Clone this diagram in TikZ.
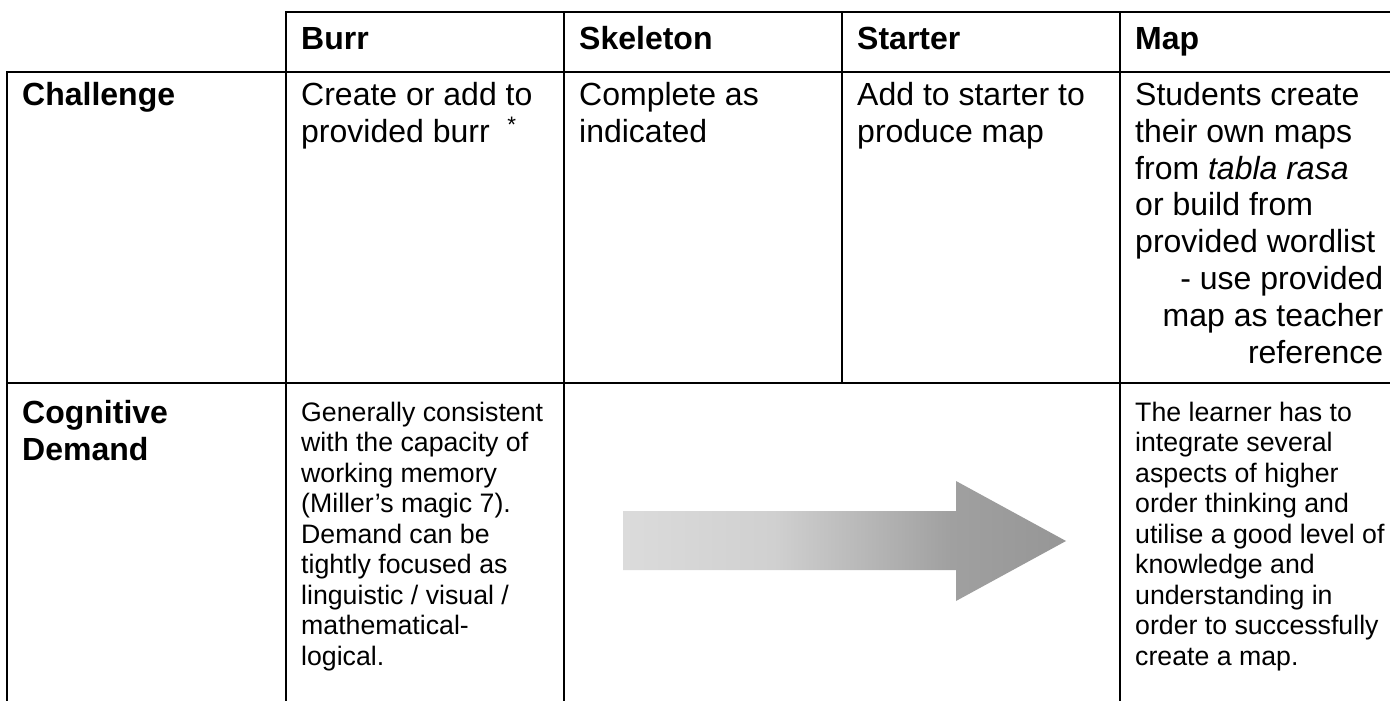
\documentclass[tikz,border=0pt]{standalone}
\usepackage{fontspec}
\setmainfont{Liberation Sans}

% greys of the progression arrow
\definecolor{fadelight}{RGB}{219,219,219}
\definecolor{fademid}{RGB}{208,208,208}
\definecolor{fadedark}{RGB}{160,160,160}
\definecolor{fadetip}{RGB}{150,150,150}
\pgfdeclarehorizontalshading{arrowfade}{100bp}{%
  color(0bp)=(fadelight); color(25bp)=(fadelight); color(42bp)=(fademid);
  color(62bp)=(fadedark); color(75bp)=(fadetip); color(100bp)=(fadetip)}

% stacked lines of a cell, the box baseline being that of the first line
\newcommand\cellrows[1]{\begin{tabular}[t]{@{}l@{}}#1\end{tabular}}
\newcommand\cellpar[2]{\begin{tabular}[t]{@{}p{#1}@{}}#2\end{tabular}}

\begin{document}
\begin{tikzpicture}[x=1pt,y=-1pt,
  rule/.style={line width=2pt,line cap=rect},
  cell/.style={anchor=base west,inner sep=0pt},
  big/.style={font=\fontsize{32}{37}\selectfont},
  small/.style={font=\fontsize{26.7}{30.5}\selectfont},
  head/.style={font=\fontsize{32}{37}\selectfont\bfseries}]

\useasboundingbox (0,0) rectangle (1390,701);

% table rules
\draw[rule] (286,12) -- (1390,12);
\draw[rule] (7,72) -- (1390,72);
\draw[rule] (7,383) -- (1390,383);
\draw[rule] (7,72) -- (7,701);
\draw[rule] (286,12) -- (286,701);
\draw[rule] (564,12) -- (564,701);
\draw[rule] (842,12) -- (842,383);
\draw[rule] (1120,12) -- (1120,701);

% column headings
\node[cell,head] (hburr)  at (301,50)  {Burr};
\node[cell,head] (hskel)  at (579,50)  {Skeleton};
\node[cell,head] (hstart) at (857,50)  {Starter};
\node[cell,head] (hmap)   at (1135,50) {Map};

% challenge row
\node[cell,head] (lchal)  at (22,105)  {Challenge};
\node[cell,big]  (cburr)  at (301,105)
  {\cellrows{Create or add to\\provided burr\hspace{0.55em}\textsuperscript{*}}};
\node[cell,big]  (cskel)  at (579,105) {\cellrows{Complete as\\indicated}};
\node[cell,big]  (cstart) at (857,105) {\cellrows{Add to starter to\\produce map}};
\node[cell,big]  (cmap)   at (1135,105)
  {\cellpar{248pt}{Students create\\their own maps\\from \textit{tabla rasa}\\or build from\\provided wordlist\\
   \hspace*{\fill}- use provided\\\hspace*{\fill}map as teacher\\\hspace*{\fill}reference}};

% cognitive demand row
\node[cell,head]  (lcog)  at (22,423)  {\cellrows{Cognitive\\Demand}};
\node[cell,small] (dburr) at (301,421)
  {\cellrows{Generally consistent\\with the capacity of\\working memory\\(Miller’s magic 7).\\Demand can be\\tightly focused as\\linguistic / visual /\\mathematical-\\logical.}};
\node[cell,small] (dmap)  at (1135,421)
  {\cellrows{The learner has to\\integrate several\\aspects of higher\\order thinking and\\utilise a good level of\\knowledge and\\understanding in\\order to successfully\\create a map.}};

% progression arrow
\path[shading=arrowfade]
  (623,511) -- (956,511) -- (956,481) -- (1066,541) -- (956,601)
  -- (956,570) -- (623,570) -- cycle;
\end{tikzpicture}
\end{document}
